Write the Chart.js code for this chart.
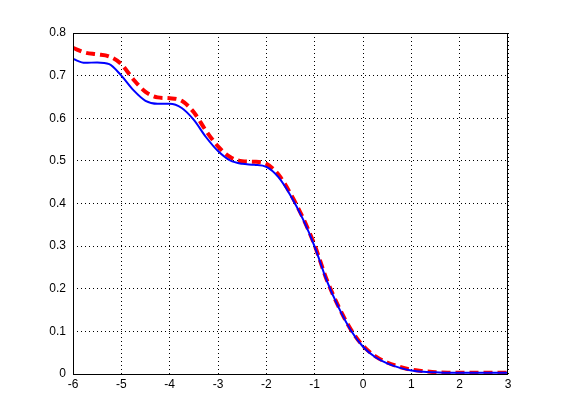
<!DOCTYPE html>
<html>
<head>
<meta charset="utf-8">
<script src="https://cdn.jsdelivr.net/npm/chart.js@4/dist/chart.umd.min.js"></script>
<style>
  html, body { margin: 0; padding: 0; background: #fff; }
  #wrap { width: 561px; height: 420px; }
</style>
</head>
<body>
<div id="wrap"><canvas id="chart"></canvas></div>
<script>
// x positions and the two curves
const xs = [-6, -5.75, -5.5, -5.25, -5, -4.75, -4.5, -4.25, -4, -3.75, -3.5, -3.25, -3, -2.75, -2.5, -2.25, -2,
  -1.75, -1.5, -1.25, -1, -0.75, -0.5, -0.25, 0, 0.25, 0.5, 0.75, 1, 1.25, 1.5, 1.75, 2, 2.25, 2.5, 2.75, 3];
const blueVals = [0.739, 0.730, 0.731, 0.727, 0.700, 0.666, 0.641, 0.634, 0.634, 0.624, 0.596, 0.556, 0.523,
  0.501, 0.493, 0.491, 0.486, 0.462, 0.419, 0.365, 0.299, 0.219, 0.155, 0.102, 0.064, 0.040, 0.025, 0.015,
  0.008, 0.005, 0.004, 0.003, 0.003, 0.003, 0.003, 0.003, 0.003];
const redVals = [0.765, 0.754, 0.750, 0.745, 0.727, 0.691, 0.662, 0.649, 0.647, 0.641, 0.614, 0.571, 0.534,
  0.509, 0.499, 0.498, 0.493, 0.468, 0.423, 0.368, 0.302, 0.221, 0.157, 0.104, 0.066, 0.042, 0.027, 0.017,
  0.010, 0.007, 0.004, 0.003, 0.003, 0.003, 0.003, 0.003, 0.003];
const xTicks = [-6, -5, -4, -3, -2, -1, 0, 1, 2, 3];
const yTicks = [0, 0.1, 0.2, 0.3, 0.4, 0.5, 0.6, 0.7, 0.8];

const toPts = vals => vals.map((v, i) => ({ x: xs[i], y: v }));

// black frame round the plot area, like a matlab axes box
const boxPlugin = {
  id: 'box',
  afterDraw(chart) {
    const a = chart.chartArea, c = chart.ctx;
    c.save();
    c.strokeStyle = '#000';
    c.lineWidth = 1;
    c.strokeRect(a.left + 0.5, a.top + 0.5, a.right - a.left - 1, a.bottom - a.top);
    c.restore();
  }
};

const font = { family: 'Liberation Sans, Arial, sans-serif', size: 12 };

new Chart(document.getElementById('chart'), {
  type: 'line',
  data: {
    datasets: [{
      data: toPts(blueVals),
      borderColor: '#0000ff',
      borderWidth: 2,
      pointRadius: 0,
      cubicInterpolationMode: 'monotone',
      order: 0
    }, {
      data: toPts(redVals),
      borderColor: '#ff0000',
      borderWidth: 4,
      borderDash: [9, 5],
      pointRadius: 0,
      cubicInterpolationMode: 'monotone',
      order: 1
    }]
  },
  options: {
    responsive: true,
    maintainAspectRatio: false,
    animation: false,
    layout: { padding: { left: 0, right: 53, top: 33, bottom: 0 } },
    plugins: { legend: { display: false }, tooltip: { enabled: false } },
    scales: {
      x: {
        type: 'linear',
        min: -6,
        max: 3,
        afterBuildTicks: s => { s.ticks = xTicks.map(v => ({ value: v })); },
        afterFit: s => { s.height = 46; },
        ticks: { color: '#000', font: font, padding: 3, maxRotation: 0 },
        grid: { color: '#000', lineWidth: 1, drawTicks: false },
        border: { display: false, dash: [1, 3] }
      },
      y: {
        type: 'linear',
        min: 0,
        max: 0.8,
        afterBuildTicks: s => { s.ticks = yTicks.map(v => ({ value: v })); },
        afterFit: s => { s.width = 73; },
        ticks: { color: '#000', font: font, padding: 7, callback: v => String(Math.round(v * 10) / 10) },
        grid: { color: '#000', lineWidth: 1, drawTicks: false },
        border: { display: false, dash: [1, 3] }
      }
    }
  },
  plugins: [boxPlugin]
});
</script>
</body>
</html>
